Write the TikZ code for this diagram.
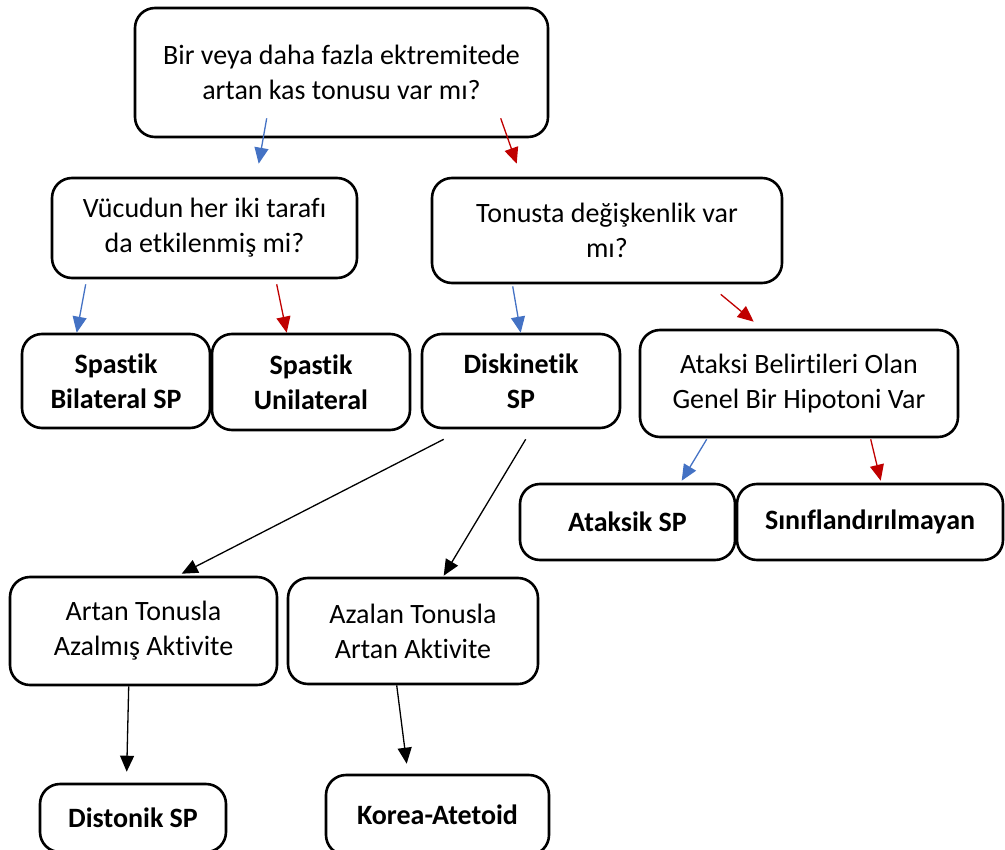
\documentclass[tikz,border=0pt]{standalone}
\usepackage{fontspec}
\setmainfont{Carlito}[Ligatures=NoCommon]
\usepackage{tikz}
\usetikzlibrary{arrows.meta}

\definecolor{qblue}{HTML}{4472C4}
\definecolor{qred}{HTML}{C00000}

\begin{document}
\begin{tikzpicture}[
			x=1bp, y=1bp,
			box/.style={rectangle, draw, rounded corners=20bp, line width=2.6bp, align=center, inner sep=0pt,
				font=\fontsize{28bp}{35bp}\selectfont},
			endbox/.style={box, font=\fontsize{28bp}{35bp}\selectfont\bfseries},
			arrow/.style={-{Triangle[length=16bp,width=14bp]}, line width=1.3bp},
			yesarrow/.style={arrow, qblue},
			noarrow/.style={arrow, qred}
			]
			\clip (0,0) rectangle (1005,-850);
			% Nodes
			\node (tone) [box, minimum width=413bp, minimum height=129bp] at (341.5,-72.5) {Bir veya daha fazla ektremitede\\artan kas tonusu var mı?};
			\node (side) [box, minimum width=305bp, minimum height=100bp] at (204.5,-228) {Vücudun her iki tarafı\\da etkilenmiş mi?};
			\node (vary) [box, minimum width=350bp, minimum height=105bp] at (607,-230.5) {Tonusta değişkenlik var\\mı?};
			
			\node (bil) [endbox, minimum width=188bp, minimum height=94bp] at (116,-381) {Spastik\\Bilateral SP};
			\node (uni) [endbox, minimum width=198bp, minimum height=96bp] at (311,-382) {Spastik\\Unilateral};
			\node (disk) [endbox, minimum width=198bp, minimum height=94bp] at (521,-381) {Diskinetik\\SP};
			\node (hypo) [box, minimum width=318bp, minimum height=107bp] at (799,-383.5) {Ataksi Belirtileri Olan\\Genel Bir Hipotoni Var};
			
			\node (atak) [endbox, minimum width=215bp, minimum height=76bp] at (627.5,-522) {Ataksik SP};
			\node (unclass) [endbox, minimum width=266bp, minimum height=76bp] at (870,-522) {Sınıflandırılmayan};
			
			\node (hiton) [box, minimum width=267bp, minimum height=108bp] at (143.5,-631) {Artan Tonusla\\Azalmış Aktivite};
			\node (loton) [box, minimum width=250bp, minimum height=106bp] at (413,-631) {Azalan Tonusla\\Artan Aktivite};
			
			% Bottom Row
			\node (dist) [endbox, minimum width=186bp, minimum height=68bp] at (133,-818) {Distonik SP};
			\node (kor) [endbox, minimum width=223bp, minimum height=80bp] at (437.5,-815) {Korea-Atetoid};
			
			% Arrows
			\draw [yesarrow] ([xshift=133bp,yshift=20bp]tone.south west) -- ([xshift=208bp,yshift=13bp]side.north west);
			\draw [noarrow] ([xshift=367bp,yshift=20bp]tone.south west) -- ([xshift=86bp,yshift=13bp]vary.north west);
			
			\draw [yesarrow] ([xshift=35bp,yshift=-5bp]side.south west) -- ([xshift=56bp]bil.north west);
			\draw [noarrow] ([xshift=226bp,yshift=-5bp]side.south west) -- ([xshift=76bp]uni.north west);
			
			\draw [yesarrow] ([xshift=82bp,yshift=-2bp]vary.south west) -- ([xshift=100bp]disk.north west);
			\draw [noarrow] ([xshift=290bp,yshift=-10bp]vary.south west) -- ([xshift=115bp,yshift=7bp]hypo.north west);
			
			\draw [yesarrow] ([xshift=68bp,yshift=-1bp]hypo.south west) -- ([xshift=163bp,yshift=2bp]atak.north west);
			\draw [noarrow] ([xshift=232bp,yshift=-1bp]hypo.south west) -- ([xshift=145bp,yshift=2bp]unclass.north west);
			
			\draw [arrow] ([xshift=23bp,yshift=-10bp]disk.south west) -- ([xshift=173bp,yshift=2bp]hiton.north west);
			\draw [arrow] ([xshift=105bp,yshift=-10bp]disk.south west) -- ([xshift=157bp,yshift=1bp]loton.north west);
			
			\draw [arrow] ([xshift=120bp]hiton.south west) -- ([xshift=88bp,yshift=11bp]dist.north west);
			\draw [arrow] ([xshift=110bp]loton.south west) -- ([xshift=82bp,yshift=10bp]kor.north west);
		\end{tikzpicture}
\end{document}
